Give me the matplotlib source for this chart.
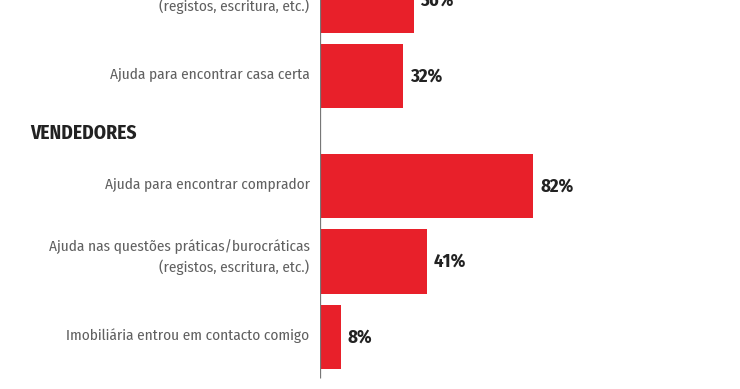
import matplotlib
matplotlib.use("Agg")
import matplotlib.pyplot as plt
from matplotlib.transforms import blended_transform_factory

# data
labels = [
    "Ajuda nas questões práticas/burocráticas\n(registos, escritura, etc.)",
    "Ajuda para encontrar casa certa",
    "Ajuda para encontrar comprador",
    "Ajuda nas questões práticas/burocráticas\n(registos, escritura, etc.)",
    "Imobiliária entrou em contacto comigo",
]
values = [36, 32, 82, 41, 8]
groups = [0, 0, 1, 1, 1]
group_titles = {1: "VENDEDORES"}

RED = "#e8202a"
FONT = ["Fira Sans Condensed", "DejaVu Sans"]

# layout: one slot per bar, extra gap where a new group starts
gap = 0.457
pos = [i + gap * g for i, g in enumerate(groups)]

fig = plt.figure(figsize=(7.4, 3.89), dpi=100)
ax = fig.add_axes([320 / 740, 0, 420 / 740, 1])

ax.barh(pos, values, height=0.85, color=RED)
ax.set_xlim(0, 420 / 2.6)
ax.set_ylim(388.5 / 75.5, -0.5 / 75.5)

ax.vlines(0, -0.5, 5.0, color="#777777", lw=0.9)

ax.set_xticks([])
ax.set_yticks([])
for s in ax.spines.values():
    s.set_visible(False)

for p, lab, v in zip(pos, labels, values):
    dy = 3.5 if "\n" in lab else 1
    ax.annotate(lab, xy=(0, p), xytext=(-7.5, dy), textcoords="offset points",
                ha="right", va="center", multialignment="right",
                family=FONT, fontsize=11, color="#606060", linespacing=1.45,
                annotation_clip=False)
    ax.annotate(f"{v}%", xy=(v, p), xytext=(5, 0), textcoords="offset points",
                ha="left", va="center", family=FONT, fontsize=13.5,
                fontweight="bold", color="#222222", annotation_clip=False)

trans = blended_transform_factory(fig.transFigure, ax.transData)
for g, title in group_titles.items():
    first = pos[groups.index(g)]
    ax.text(30 / 740, first - 0.7, title, transform=trans, ha="left",
            va="center", family=FONT, fontsize=14, fontweight="bold",
            color="#222222", clip_on=False)

fig.savefig("out.png", dpi=100)
